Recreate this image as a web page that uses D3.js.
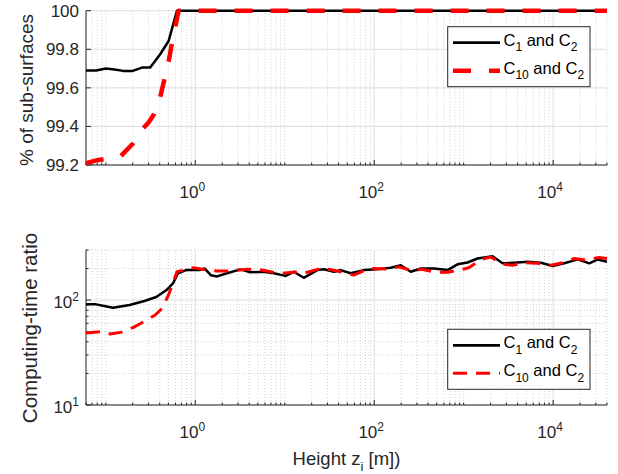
<!DOCTYPE html>
<html><head><meta charset="utf-8">
<script src="https://cdn.jsdelivr.net/npm/d3@7"></script>
<style>body{margin:0;background:#fff;} svg{display:block;font-family:"Liberation Sans",Arial,Helvetica,sans-serif;}</style>
</head><body><svg id="c" width="618" height="474"></svg>
<script>
// ---------- data ----------
const xTicks = [1, 100, 10000];
const topYTicks = [99.2, 99.4, 99.6, 99.8, 100];
const botYTicks = [10, 100];
const seriesNames = ["1", "10"]; // C_1 and C_2, C_10 and C_2

// top panel: % of sub-surfaces
const topX_C1 = [0.06, 0.078, 0.1, 0.125, 0.156, 0.2, 0.253, 0.313, 0.405, 0.503, 0.624, 40000];
const topY_C1 = [99.69, 99.69, 99.70, 99.695, 99.688, 99.688, 99.705, 99.705, 99.774, 99.843, 100, 100];
const topX_C10 = [0.06, 0.08, 0.1, 0.145, 0.2, 0.242, 0.3, 0.341, 0.406, 0.503, 0.548, 0.65, 40000];
const topY_C10 = [99.21, 99.225, 99.232, 99.243, 99.31, 99.373, 99.42, 99.459, 99.554, 99.736, 99.831, 100, 100];

// bottom panel: computing-time ratio
const botX_C1 = [0.06, 0.078, 0.12, 0.184, 0.27, 0.366, 0.473, 0.563, 0.64, 0.79, 1.12, 1.27, 1.5, 1.75, 2.26, 3.19, 4.13, 5.82, 7.53, 10.2, 12.6, 16.3, 23.1, 27.3, 35.4, 42, 54.5, 76.7, 108, 153, 198, 256, 331, 467, 659, 853, 1104, 1428, 2101, 2721, 3669, 5176, 7300, 9870, 13300, 18800, 25400, 31500, 40000];
const botY_C1 = [91, 91, 84.5, 89.6, 98, 107, 124, 144, 180, 193, 193, 200, 172, 168, 180, 196, 184, 186, 180, 170, 186, 163, 193, 197, 186, 193, 180, 193, 197, 203, 215, 186, 200, 200, 193, 219, 228, 249, 262, 224, 227, 232, 227, 211, 224, 244, 224, 244, 232];
const botX_C10 = [0.06, 0.09, 0.112, 0.151, 0.204, 0.264, 0.356, 0.424, 0.502, 0.624, 0.957, 1.35, 1.76, 2.47, 3.79, 4.91, 7.22, 9.35, 13.2, 16.2, 23.8, 30.9, 42, 58.8, 80.2, 98.5, 145, 187, 276, 340, 487, 664, 881, 1140, 1556, 2014, 2721, 3519, 4959, 6705, 9440, 12770, 17220, 23290, 32580, 40000];
const botY_C10 = [48.5, 50, 47.5, 49.5, 55, 62, 72, 83, 112, 186, 203, 193, 189, 189, 197, 197, 185, 180, 185, 180, 197, 197, 186, 173, 193, 200, 197, 207, 190, 197, 184, 184, 193, 203, 244, 257, 220, 215, 227, 224, 215, 227, 249, 240, 255, 249];

// ---------- layout ----------
const svg = d3.select("#c");
const L = 86, R = 607;
const axisCol = "#262626";
const tickFont = 17, supFont = 12;
const x = d3.scaleLog().domain([0.06, 40000]).range([L, R]);
const yTop = d3.scaleLinear().domain([99.2, 100]).range([165, 10.7]);
const yBot = d3.scaleLog().domain([10, 300]).range([405, 250]);

const xMinor = [];
for (let e = -2; e <= 4; e++) for (let m = 1; m <= 9; m++) {
  const v = m * Math.pow(10, e);
  if (v >= 0.06 && v <= 40000 && !xTicks.includes(v)) xMinor.push(+v.toPrecision(3));
}
const yBotMinor = [20,30,40,50,60,70,80,90,200,300];

function panel(y, yTicks, yMinor, T, B, isLog) {
  const g = svg.append("g");
  g.selectAll(".mgx").data(xMinor).enter().append("line")
    .attr("x1", d => x(d)).attr("x2", d => x(d)).attr("y1", T).attr("y2", B)
    .attr("stroke", "#c6c6c6").attr("stroke-width", 0.8).attr("stroke-dasharray", "1,2");
  g.selectAll(".mgy").data(yMinor).enter().append("line")
    .attr("x1", L).attr("x2", R).attr("y1", d => y(d)).attr("y2", d => y(d))
    .attr("stroke", "#c6c6c6").attr("stroke-width", 0.8).attr("stroke-dasharray", "1,2");
  g.selectAll(".gx").data(xTicks).enter().append("line")
    .attr("x1", d => x(d)).attr("x2", d => x(d)).attr("y1", T).attr("y2", B)
    .attr("stroke", "#dedede").attr("stroke-width", 1);
  g.selectAll(".gy").data(yTicks).enter().append("line")
    .attr("x1", L).attr("x2", R).attr("y1", d => y(d)).attr("y2", d => y(d))
    .attr("stroke", "#dedede").attr("stroke-width", 1);
  g.append("line").attr("x1", L).attr("x2", L).attr("y1", T).attr("y2", B).attr("stroke", axisCol);
  g.append("line").attr("x1", L).attr("x2", R).attr("y1", B).attr("y2", B).attr("stroke", axisCol);
  g.selectAll(".tx").data(xTicks).enter().append("line")
    .attr("x1", d => x(d)).attr("x2", d => x(d)).attr("y1", B).attr("y2", B - 5).attr("stroke", axisCol);
  g.selectAll(".tmx").data(xMinor).enter().append("line")
    .attr("x1", d => x(d)).attr("x2", d => x(d)).attr("y1", B).attr("y2", B - 2.5).attr("stroke", axisCol);
  g.selectAll(".ty").data(yTicks).enter().append("line")
    .attr("x1", L).attr("x2", L + 5).attr("y1", d => y(d)).attr("y2", d => y(d)).attr("stroke", axisCol);
  g.selectAll(".tmy").data(yMinor).enter().append("line")
    .attr("x1", L).attr("x2", L + 2.5).attr("y1", d => y(d)).attr("y2", d => y(d)).attr("stroke", axisCol);
  xTicks.forEach(v => {
    const t = g.append("text").attr("x", x(v) - 3).attr("y", B + 33).attr("text-anchor", "middle")
      .attr("font-size", tickFont).attr("fill", axisCol);
    t.append("tspan").text("10");
    t.append("tspan").attr("dy", -7.5).attr("font-size", supFont).text(Math.round(Math.log10(v)));
  });
  yTicks.forEach(v => {
    const t = g.append("text").attr("x", 79).attr("text-anchor", "end").attr("font-size", tickFont).attr("fill", axisCol);
    if (isLog) {
      t.attr("y", y(v) + 8);
      t.append("tspan").text("10");
      t.append("tspan").attr("dy", -7.5).attr("font-size", supFont).text(Math.round(Math.log10(v)));
    } else {
      t.attr("y", y(v) + 6).text(d3.format(".1f")(v).replace(/\.0$/, ""));
    }
  });
  return g;
}

const gTop = panel(yTop, topYTicks, [], 10.7, 165, false);
const gBot = panel(yBot, botYTicks, yBotMinor, 250, 405, true);

function drawLine(g, xs, ys, y, color, w, dash) {
  const pts = xs.map((d, i) => [d, ys[i]]);
  const p = g.append("path").datum(pts)
    .attr("d", d3.line().x(d => x(d[0])).y(d => y(d[1])))
    .attr("fill", "none").attr("stroke", color).attr("stroke-width", w)
    .attr("stroke-linejoin", "round");
  if (dash) p.attr("stroke-dasharray", dash);
}
drawLine(gTop, topX_C1, topY_C1, yTop, "#000", 2.5, null);
drawLine(gTop, topX_C10, topY_C10, yTop, "#ff0000", 4.5, "18,18");
drawLine(gBot, botX_C1, botY_C1, yBot, "#000", 2.5, null);
drawLine(gBot, botX_C10, botY_C10, yBot, "#ff0000", 3, "14,9");

function legend(top, redW, redDash) {
  const g = svg.append("g");
  g.append("rect").attr("x", 447.7).attr("y", top).attr("width", 142.3).attr("height", 60)
    .attr("fill", "#fff").attr("stroke", axisCol).attr("stroke-width", 1);
  const rows = [{c: "#000", w: 2.8, dash: null, yy: top + 16, n: seriesNames[0]},
                {c: "#ff0000", w: redW, dash: redDash, yy: top + 44, n: seriesNames[1]}];
  rows.forEach(r => {
    const l = g.append("line").attr("x1", 453).attr("x2", 500).attr("y1", r.yy).attr("y2", r.yy)
      .attr("stroke", r.c).attr("stroke-width", r.w);
    if (r.dash) l.attr("stroke-dasharray", r.dash);
    const t = g.append("text").attr("x", 503.5).attr("y", r.yy + 3).attr("font-size", 16.5).attr("fill", "#000");
    t.append("tspan").text("C");
    t.append("tspan").attr("dy", 5.5).attr("font-size", 12).text(r.n);
    t.append("tspan").attr("dy", -5.5).text(" and C");
    t.append("tspan").attr("dy", 5.5).attr("font-size", 12).text("2");
  });
}
legend(26.7, 4.5, "18,18");
legend(329.3, 3, "14,9");

svg.append("text").attr("transform", "translate(33,90) rotate(-90)").attr("text-anchor", "middle")
  .attr("font-size", 19).attr("fill", axisCol).text("% of sub-surfaces");
svg.append("text").attr("transform", "translate(37,328) rotate(-90)").attr("text-anchor", "middle")
  .attr("font-size", 20.5).attr("fill", axisCol).text("Computing-time ratio");
const xl = svg.append("text").attr("x", 346.5).attr("y", 465).attr("text-anchor", "middle")
  .attr("font-size", 18.5).attr("fill", axisCol);
xl.append("tspan").text("Height z");
xl.append("tspan").attr("dy", 5.5).attr("font-size", 13).text("i");
xl.append("tspan").attr("dy", -5.5).text(" [m])");
</script></body></html>
